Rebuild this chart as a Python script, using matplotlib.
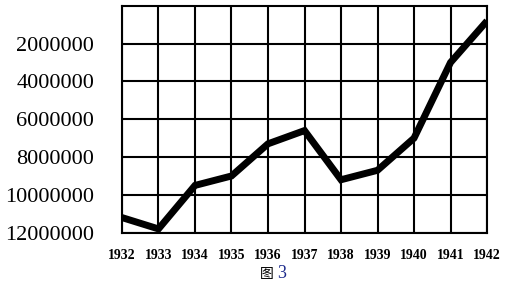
import matplotlib.pyplot as plt

# datos (eje y invertido)
years = [1932, 1933, 1934, 1935, 1936, 1937, 1938, 1939, 1940, 1941, 1942]
values = [11200000, 11800000, 9500000, 9000000, 7300000, 6600000,
          9200000, 8700000, 7000000, 3000000, 800000]
y_ticks = [2000000, 4000000, 6000000, 8000000, 10000000, 12000000]
caption_char = "图"
caption_num = "3"


def plot_chart():
    fig = plt.figure(figsize=(5.07, 2.88), dpi=100)
    ax = fig.add_axes([0.2406, 0.192, 0.72, 0.788])

    ax.plot(years, values, color='black', linewidth=5,
            solid_joinstyle='miter', solid_capstyle='butt', zorder=3)

    ax.set_xlim(years[0], years[-1])
    ax.set_ylim(12000000, 0)
    ax.set_xticks(years)
    ax.set_xticklabels([str(y) for y in years], fontfamily='Liberation Serif',
                       fontweight='bold', fontsize=10)
    ax.set_yticks(y_ticks)
    ax.set_yticklabels([str(v) for v in y_ticks], fontfamily='Liberation Serif',
                       fontsize=16)
    ax.tick_params(axis='both', length=0)
    ax.tick_params(axis='y', pad=20)
    ax.tick_params(axis='x', pad=12)

    ax.grid(True, color='black', linewidth=1.5)
    for s in ax.spines.values():
        s.set_color('black')
        s.set_linewidth(1.5)

    fig.text(0.5130, 0.033, caption_char, fontfamily='Noto Sans CJK SC',
             fontsize=10, ha='left', va='baseline', color='black')
    fig.text(0.5470, 0.033, caption_num, fontfamily='Liberation Serif',
             fontsize=13, ha='left', va='baseline', color='#1c2a8c')

    fig.savefig('out.png', dpi=100)


if __name__ == "__main__":
    plot_chart()
